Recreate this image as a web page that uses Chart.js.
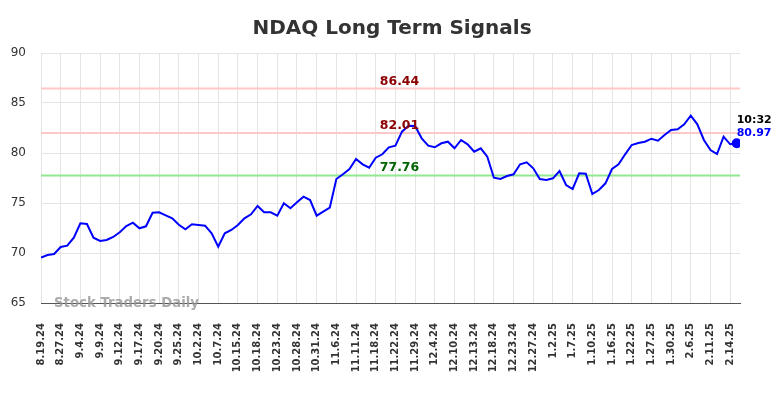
<!DOCTYPE html>
<html>
<head>
<meta charset="utf-8">
<script src="https://cdn.jsdelivr.net/npm/chart.js@4.4.1/dist/chart.umd.min.js"></script>
<style>
html,body{margin:0;padding:0;background:#fff;}
canvas{display:block;}
</style>
</head>
<body>
<canvas id="c" width="784" height="398"></canvas>
<script>
const dates = ["8.19.24","8.21.24","8.23.24","8.27.24","8.29.24","9.3.24","9.4.24","9.5.24","9.6.24","9.9.24",
"9.10.24","9.11.24","9.12.24","9.13.24","9.16.24","9.17.24","9.18.24","9.19.24","9.20.24","9.23.24",
"9.24.24","9.25.24","9.27.24","9.30.24","10.2.24","10.3.24","10.4.24","10.7.24","10.9.24","10.11.24",
"10.15.24","10.16.24","10.17.24","10.18.24","10.21.24","10.22.24","10.23.24","10.24.24","10.25.24","10.28.24",
"10.29.24","10.30.24","10.31.24","11.1.24","11.4.24","11.6.24","11.7.24","11.8.24","11.11.24","11.13.24",
"11.15.24","11.18.24","11.19.24","11.21.24","11.22.24","11.25.24","11.26.24","11.29.24","12.2.24","12.3.24",
"12.4.24","12.5.24","12.6.24","12.10.24","12.11.24","12.12.24","12.13.24","12.16.24","12.17.24","12.18.24",
"12.19.24","12.20.24","12.23.24","12.24.24","12.26.24","12.27.24","12.30.24","12.31.24","1.2.25","1.3.25",
"1.6.25","1.7.25","1.8.25","1.9.25","1.10.25","1.13.25","1.14.25","1.16.25","1.17.25","1.21.25",
"1.22.25","1.23.25","1.24.25","1.27.25","1.28.25","1.29.25","1.30.25","1.31.25","2.4.25","2.6.25",
"2.7.25","2.10.25","2.11.25","2.12.25","2.13.25","2.14.25","2.18.25"];

const closes = [69.53,69.80,69.90,70.60,70.73,71.53,72.97,72.90,71.53,71.20,
71.30,71.60,72.07,72.70,73.03,72.47,72.67,74.03,74.07,73.77,
73.47,72.83,72.37,72.87,72.80,72.73,71.97,70.63,71.97,72.30,
72.80,73.47,73.87,74.70,74.07,74.07,73.73,74.97,74.47,75.07,
75.63,75.30,73.73,74.13,74.53,77.40,77.87,78.40,79.40,78.87,
78.53,79.53,79.87,80.57,80.73,82.13,82.73,82.70,81.47,80.73,
80.57,80.97,81.13,80.47,81.30,80.87,80.13,80.47,79.63,77.53,
77.40,77.70,77.87,78.87,79.07,78.47,77.40,77.30,77.47,78.20,
76.80,76.40,77.97,77.93,75.90,76.30,76.97,78.40,78.87,79.87,
80.80,81.00,81.13,81.43,81.23,81.80,82.30,82.37,82.87,83.73,
82.87,81.30,80.30,79.90,81.63,80.87,80.97];

const yTicks = [65,70,75,80,85,90];
const levels = [86.44, 82.01, 77.76];
const levelLineColors = ["#ffc8c8","#ffc8c8","#90e890"];
const levelTextColors = ["#8b0000","#8b0000","#006400"];
const lastTime = "10:32";
const titleText = "NDAQ Long Term Signals";
const watermark = "Stock Traders Daily";

const FONT = "'DejaVu Sans', sans-serif";

const overlay = {
  id: 'overlay',
  beforeDatasetsDraw(chart) {
    const {ctx, chartArea, scales} = chart;
    ctx.save();
    levels.forEach((lv, i) => {
      const y = scales.y.getPixelForValue(lv);
      ctx.strokeStyle = levelLineColors[i];
      ctx.lineWidth = 2;
      ctx.beginPath();
      ctx.moveTo(chartArea.left, y);
      ctx.lineTo(chartArea.right, y);
      ctx.stroke();
    });
    ctx.restore();
  },
  afterDatasetsDraw(chart) {
    const {ctx, chartArea, scales, width} = chart;
    ctx.save();
    ctx.font = "bold 20px " + FONT;
    ctx.fillStyle = '#333';
    ctx.textAlign = 'center';
    ctx.textBaseline = 'alphabetic';
    ctx.fillText(titleText, width / 2, 34);

    ctx.font = "bold 12.5px " + FONT;
    const cx = 399.5;
    levels.forEach((lv, i) => {
      const y = scales.y.getPixelForValue(lv);
      ctx.fillStyle = levelTextColors[i];
      ctx.fillText(lv.toFixed(2), cx, y - 4);
    });
    const li = closes.length - 1;
    const px = scales.x.getPixelForValue(li);
    const py = scales.y.getPixelForValue(closes[li]);
    ctx.textAlign = 'left';
    ctx.font = "bold 11px " + FONT;
    ctx.fillStyle = '#000';
    ctx.fillText(lastTime, px, py - 20);
    ctx.fillStyle = '#0000ff';
    ctx.fillText(closes[li].toFixed(2), px, py - 7);
    ctx.font = "bold 13.3px " + FONT;
    ctx.fillStyle = 'rgba(150,150,150,0.8)';
    ctx.fillText(watermark, 54, chartArea.bottom + 3.5);
    ctx.restore();
  }
};

new Chart(document.getElementById('c'), {
  type: 'line',
  data: {
    datasets: [{
      data: closes.map((v, i) => ({x: i, y: v})),
      borderColor: '#0000ff',
      backgroundColor: '#0000ff',
      borderWidth: 2,
      tension: 0,
      pointRadius: (c) => c.dataIndex === closes.length - 1 ? 4 : 0,
      pointHoverRadius: 0,
      fill: false
    }]
  },
  options: {
    responsive: false,
    animation: false,
    layout: { padding: { top: 53, right: 44, bottom: 0, left: 0 } },
    plugins: {
      legend: { display: false },
      tooltip: { enabled: false },
      title: { display: false }
    },
    scales: {
      x: {
        type: 'linear',
        min: 0,
        max: closes.length - 0.5,
        afterFit(s) { s.height = 95; },
        afterBuildTicks(s) {
          const t = [];
          for (let i = 0; i < dates.length - 1; i += 3) t.push({value: i});
          s.ticks = t;
        },
        ticks: {
          autoSkip: false,
          minRotation: 90,
          maxRotation: 90,
          padding: 20,
          color: '#333',
          font: { family: FONT, size: 10, weight: 'bold' },
          callback: (v) => dates[v]
        },
        grid: { color: '#e4e4e4', lineWidth: 1, drawTicks: false },
        border: { display: true, color: '#555', width: 1 }
      },
      y: {
        min: 65,
        max: 90,
        afterFit(s) { s.width = 41; },
        afterBuildTicks(s) { s.ticks = yTicks.map(v => ({value: v})); },
        ticks: {
          padding: 15,
          color: '#333',
          font: { family: FONT, size: 12 }
        },
        grid: { color: '#e4e4e4', lineWidth: 1, drawTicks: false },
        border: { display: false }
      }
    }
  },
  plugins: [overlay]
});
</script>
</body>
</html>
